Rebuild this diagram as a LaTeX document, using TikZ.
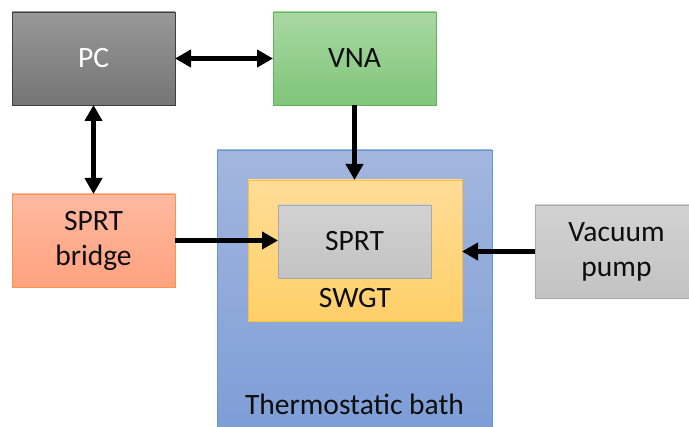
\documentclass[tikz,border=0pt]{standalone}
\usepackage{fontspec}
\setmainfont{Carlito}
\usetikzlibrary{arrows.meta,positioning}
\definecolor{PCTop}{HTML}{989898}
\definecolor{PCBottom}{HTML}{757575}
\definecolor{PCBorder}{HTML}{3F3F3F}
\definecolor{VNATop}{HTML}{A9D8A3}
\definecolor{VNABottom}{HTML}{7FC579}
\definecolor{VNABorder}{HTML}{5DB85A}
\definecolor{BridgeTop}{HTML}{FFB9A1}
\definecolor{BridgeBottom}{HTML}{FFA27E}
\definecolor{BridgeBorder}{HTML}{F9954E}
\definecolor{BathTop}{HTML}{A3B6DE}
\definecolor{BathBottom}{HTML}{7B9CD7}
\definecolor{BathBorder}{HTML}{5B9BD5}
\definecolor{SWGTTop}{HTML}{FFDC97}
\definecolor{SWGTBottom}{HTML}{FFCF68}
\definecolor{SWGTBorder}{HTML}{F7C13A}
\definecolor{GrayTop}{HTML}{D2D2D2}
\definecolor{GrayBottom}{HTML}{C3C3C3}
\definecolor{GrayBorder}{HTML}{A9A9A9}
\newcommand{\boxfont}{\fontsize{29.5pt}{35pt}\selectfont}
\tikzset{
    box/.style={rectangle, draw, line width=0.8pt, minimum width=163pt, minimum height=93pt, inner sep=0pt, outer sep=0pt, align=center, font=\boxfont, text=black!95},
    pcbox/.style={box, draw=PCBorder, top color=PCTop, bottom color=PCBottom, text=white},
    vnabox/.style={box, draw=VNABorder, top color=VNATop, bottom color=VNABottom},
    bridgebox/.style={box, draw=BridgeBorder, top color=BridgeTop, bottom color=BridgeBottom},
    bathbox/.style={box, draw=BathBorder, top color=BathTop, bottom color=BathBottom, minimum width=275pt, minimum height=300pt},
    swgtbox/.style={box, draw=SWGTBorder, top color=SWGTTop, bottom color=SWGTBottom, minimum width=214pt, minimum height=141pt},
    graybox/.style={box, draw=GrayBorder, top color=GrayTop, bottom color=GrayBottom},
    boxtext/.style={font=\boxfont, text=black!95, inner sep=0pt},
    connection/.style={-{Triangle[length=16pt, width=17pt]}, line width=5pt},
    biconnection/.style={connection, {Triangle[length=16pt, width=17pt]}-{Triangle[length=16pt, width=17pt]}}
}
\begin{document}
\begin{tikzpicture}[x=1pt, y=-1pt]
\useasboundingbox (0,0) rectangle (689,427);

% Instruments
\node (pc) [pcbox] at (93.5,58.5) {PC};
\node (vna) [vnabox, right=98pt of pc] {VNA};
\node (bridge) [bridgebox, below=89pt of pc] {SPRT\\bridge};

% Bath with the gas thermometer inside
\node (bath) [bathbox, anchor=north west] at (217,150) {};
\node (bathtext) [boxtext, anchor=base] at (354.5,415) {Thermostatic bath};
\node (swgt) [swgtbox, anchor=north west] at (248,180) {};
\node (swgttext) [boxtext, anchor=base] at ([yshift=13pt]swgt.south) {SWGT};
\node (sprt) [graybox, minimum width=153pt, minimum height=73pt, anchor=north west] at (278,205) {SPRT};

% Pump
\node (pump) [graybox, anchor=north west] at (535,205) {Vacuum\\pump};

% Connections
\draw [biconnection] (pc) -- (vna);
\draw [biconnection] (pc) -- (bridge);
\draw [connection] (vna.south) -- (vna.south |- swgt.north);
\draw [connection] (bridge.east) -- (bridge.east -| sprt.west);
\draw [connection] (pump.west) -- (pump.west -| swgt.east);

\end{tikzpicture}
\end{document}
